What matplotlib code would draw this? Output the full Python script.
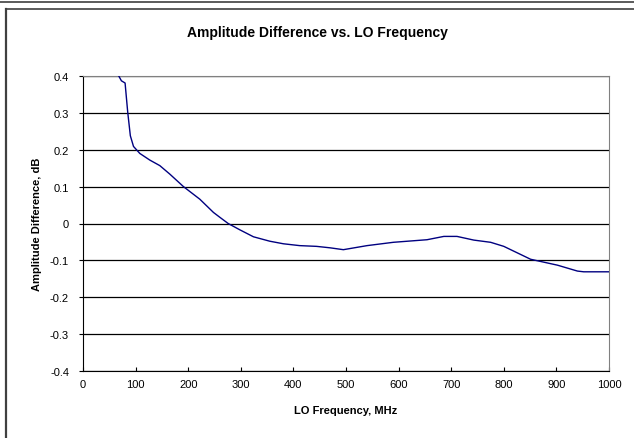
import matplotlib
matplotlib.use("Agg")
import matplotlib.pyplot as plt
from matplotlib.lines import Line2D

plt.rcParams['font.family'] = ['Liberation Sans', 'DejaVu Sans']

# LO frequency (MHz) and amplitude difference (dB)
freq = [68, 73, 80, 85, 90, 96, 108, 127, 146, 165, 191, 222, 248, 260, 276,
        298, 324, 355, 381, 412, 444, 470, 495, 540, 590, 654, 686, 711, 743,
        775, 800, 851, 902, 940, 952, 1000]
amp_diff = [0.400, 0.387, 0.381, 0.302, 0.238, 0.209, 0.190, 0.172, 0.157,
            0.134, 0.100, 0.066, 0.030, 0.017, 0.000, -0.017, -0.036, -0.048,
            -0.055, -0.060, -0.062, -0.066, -0.071, -0.060, -0.051, -0.044,
            -0.035, -0.035, -0.045, -0.051, -0.062, -0.097, -0.113, -0.129,
            -0.131, -0.131]

xticks = [0, 100, 200, 300, 400, 500, 600, 700, 800, 900, 1000]
yticks = [0.4, 0.3, 0.2, 0.1, 0, -0.1, -0.2, -0.3, -0.4]
ytick_labels = ['0.4', '0.3', '0.2', '0.1', '0', '-0.1', '-0.2', '-0.3', '-0.4']

fig = plt.figure(figsize=(6.34, 4.39), dpi=100)
ax = fig.add_axes([83/634, 1-372/439, (609-83)/634, (372-77)/439])

for y in yticks:
    ax.axhline(y, color='black', lw=0.9, zorder=1)

ax.plot(freq, amp_diff, color='#000080', lw=1.0, zorder=3)

ax.set_xlim(0, 1000)
ax.set_ylim(-0.4, 0.4)
ax.set_xticks(xticks)
ax.set_yticks(yticks)
ax.set_yticklabels(ytick_labels)
ax.tick_params(axis='x', direction='in', length=3, width=0.8, labelsize=8, pad=6)
ax.tick_params(axis='y', direction='out', length=3, width=0.8, labelsize=8, pad=7)

ax.spines['left'].set_color('black')
ax.spines['bottom'].set_color('black')
ax.spines['top'].set_color('#808080')
ax.spines['right'].set_color('#808080')

ax.set_xlabel('LO Frequency, MHz', fontsize=8, fontweight='bold', labelpad=11)
ax.set_ylabel('Amplitude Difference, dB', fontsize=8, fontweight='bold', labelpad=6)
fig.text(0.5, 1-33/439, 'Amplitude Difference vs. LO Frequency',
         ha='center', va='center', fontsize=10, fontweight='bold')

# outer chart frame
fig.add_artist(Line2D([0, 1], [1-3/439, 1-3/439], color='#404040', lw=1.2))
fig.add_artist(Line2D([6/634, 1], [1-10/439, 1-10/439], color='#404040', lw=1.2))
fig.add_artist(Line2D([6/634, 6/634], [0, 1-10/439], color='#404040', lw=1.6))

fig.savefig('out.png', dpi=100)
